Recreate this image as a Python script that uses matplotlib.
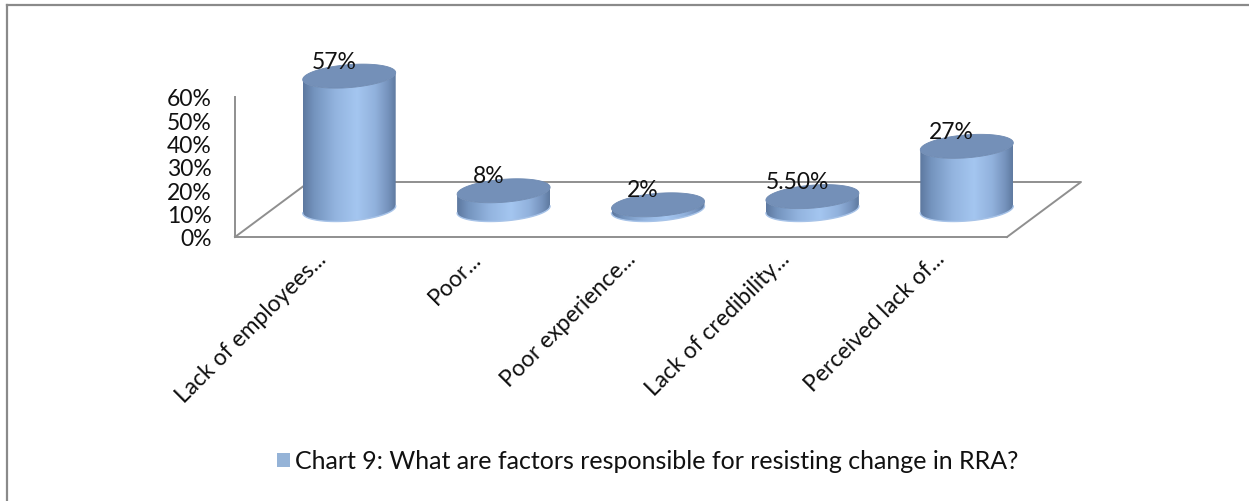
import numpy as np
import matplotlib
matplotlib.use("Agg")
import matplotlib.pyplot as plt
from matplotlib.patches import Polygon, Patch
from matplotlib.lines import Line2D
from matplotlib.colors import LinearSegmentedColormap
from matplotlib.transforms import offset_copy, ScaledTranslation

plt.rcParams['font.family'] = ['Lato', 'DejaVu Sans']

# ---- data ----
categories = ["Lack of employees...", "Poor...", "Poor experience...",
              "Lack of credibility...", "Perceived lack of..."]
values = [0.57, 0.08, 0.02, 0.055, 0.27]
value_labels = ["57%", "8%", "2%", "5.50%", "27%"]
y_ticks = [0.0, 0.1, 0.2, 0.3, 0.4, 0.5, 0.6]
y_tick_labels = ["0%", "10%", "20%", "30%", "40%", "50%", "60%"]
series_name = "Chart 9: What are factors responsible for resisting change in RRA?"

# ---- figure / axes geometry ----
W, H, DPI = 1249, 502, 100
fig = plt.figure(figsize=(W / DPI, H / DPI), dpi=DPI)
ax = fig.add_axes([0, 0, 1, 1])
ax.patch.set_visible(False)

# floor: x -0.5..4.5 spans px 235..1007, y 0..0.6 spans px 238..97.6 (from top)
px_x = 772 / 5.0
px_y = 140.4 / 0.6
XLIM = (-0.5 - 235 / px_x, 4.5 + (W - 1007) / px_x)
YLIM = (0 - (H - 238) / px_y, 0.6 + 97.6 / px_y)
ax.set_xlim(*XLIM)
ax.set_ylim(*YLIM)

# depth of the floor (oblique projection) in data units
DEPTH_X = 74 / px_x
DEPTH_Y = 55 / px_y
MID_X, MID_Y = DEPTH_X / 2, DEPTH_Y / 2

grid_col = "#8f8f8f"
text_col = "#111111"
FS = 16.5

# spines: vertical axis at front-left, front floor edge
for s in ["top", "right"]:
    ax.spines[s].set_visible(False)
ax.spines["left"].set_position(("data", -0.5))
ax.spines["left"].set_bounds(0, 0.6)
ax.spines["bottom"].set_position(("data", 0))
ax.spines["bottom"].set_bounds(-0.5, 4.5)
for s in ["left", "bottom"]:
    ax.spines[s].set_color(grid_col)
    ax.spines[s].set_linewidth(1.4)

ax.set_yticks(y_ticks, y_tick_labels)
ax.tick_params(axis="y", length=0, pad=17, labelsize=FS, labelcolor=text_col)
ax.set_xticks(range(len(categories)), categories, rotation=45, ha="right",
              va="center", rotation_mode="anchor")
ax.tick_params(axis="x", length=0, pad=13, labelsize=FS, labelcolor=text_col)
for lbl in ax.get_xticklabels():
    lbl.set_transform(lbl.get_transform() + ScaledTranslation(11 / DPI, 0, fig.dpi_scale_trans))

# floor outline (sides and back edge)
fx0, fx1 = -0.5, 4.5
floor = [(fx1, 0), (fx1 + DEPTH_X, DEPTH_Y), (fx0 + DEPTH_X, DEPTH_Y), (fx0, 0)]
ax.add_line(Line2D([p[0] for p in floor], [p[1] for p in floor], color=grid_col,
                   lw=1.4, zorder=1, clip_on=False))

# ---- cylinders ----
R = 46.5 / px_x          # radius along x
B = 11.5 / px_y          # half-height of ellipses
K = 0.075 * px_x / px_y  # slight tilt of the ellipses
body_cmap = LinearSegmentedColormap.from_list("cyl", [
    (0.00, "#5d789f"), (0.12, "#7494be"), (0.35, "#93b4df"),
    (0.58, "#a4c6f0"), (0.78, "#91b1dc"), (0.92, "#7592bc"), (1.00, "#5f7aa0")])
top_col = "#7490b8"
grad = body_cmap(np.linspace(0, 1, 256))[None, :, :]

t_low = np.linspace(np.pi, 2 * np.pi, 80)
t_all = np.linspace(0, 2 * np.pi, 160)

for i, v in enumerate(values):
    cx = i + MID_X
    y0 = MID_Y
    y1 = v + MID_Y

    def ell(t, yc):
        xs = cx + R * np.cos(t)
        ys = yc + B * np.sin(t) + K * R * np.cos(t)
        return xs, ys

    bx, by = ell(t_low, y0)
    tx, ty = ell(t_low[::-1], y1)
    body = Polygon(np.column_stack([np.r_[bx, tx], np.r_[by, ty]]), closed=True,
                   facecolor="none", edgecolor="none", zorder=2, clip_on=False)
    ax.add_patch(body)
    im = ax.imshow(grad, extent=(cx - R, cx + R, y0 - 2 * B, y1 + 2 * B),
                   aspect="auto", interpolation="bilinear", zorder=2)
    im.set_clip_path(body)
    # light rim at the bottom edge
    ax.plot(bx, by, color="#a7c3e8", lw=1.0, zorder=3, clip_on=False)

    ex, ey = ell(t_all, y1)
    ax.add_patch(Polygon(np.column_stack([ex, ey]), closed=True, facecolor=top_col,
                         edgecolor="#6e8ab2", lw=0.6, zorder=4, clip_on=False))

    lab_tr = offset_copy(ax.transData, fig=fig, x=-15, y=15, units="dots")
    ax.text(cx, y1, value_labels[i], transform=lab_tr, ha="center", va="center",
            fontsize=FS, color=text_col, zorder=6)

# restore the limits changed by imshow
ax.set_xlim(*XLIM)
ax.set_ylim(*YLIM)

# ---- legend ----
handle = Patch(facecolor="#95b3d7", edgecolor="none")
fig.legend([handle], [series_name], loc="center",
           bbox_to_anchor=(648 / W, 1 - 462 / H), frameon=False, fontsize=18,
           handlelength=0.5, handleheight=0.5, handletextpad=0.22,
           labelcolor=text_col)

# ---- outer chart frame ----
fx = 6.5 / W
fy = 1 - 5.5 / H
fig.add_artist(Line2D([fx, fx], [0, fy], color="#8a8a8a", lw=1.6, transform=fig.transFigure))
fig.add_artist(Line2D([fx, 1], [fy, fy], color="#8a8a8a", lw=1.6, transform=fig.transFigure))

fig.savefig("out.png", dpi=DPI)
